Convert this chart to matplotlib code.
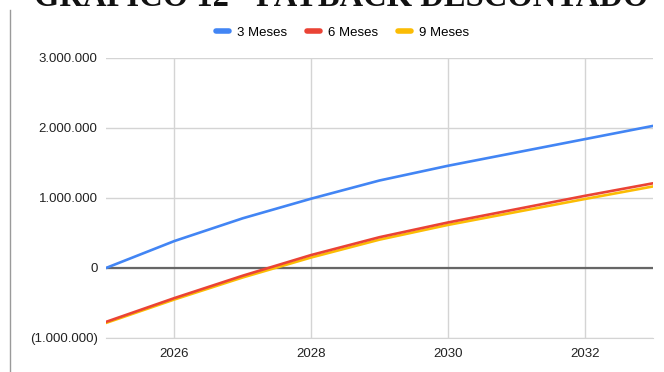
import matplotlib.pyplot as plt
from matplotlib.lines import Line2D
from matplotlib.ticker import FuncFormatter

# Fluxo de caixa descontado acumulado por cenário de prazo
anos = [2025, 2026, 2027, 2028, 2029, 2030, 2031, 2032, 2033]
meses_3 = [0, 385000, 710000, 990000, 1250000, 1460000, 1650000, 1840000, 2030000]
meses_6 = [-770000, -430000, -110000, 185000, 440000, 650000, 840000, 1030000, 1210000]
meses_9 = [-785000, -450000, -135000, 150000, 405000, 615000, 800000, 985000, 1165000]

series = [
    ('3 Meses', meses_3, '#4285F4'),
    ('6 Meses', meses_6, '#EA4335'),
    ('9 Meses', meses_9, '#FBBC04'),
]


def fmt_valor(v, pos):
    txt = f'{abs(v):,.0f}'.replace(',', '.')
    return f'({txt})' if v < 0 else txt


plt.rcParams['font.family'] = ['Liberation Sans', 'DejaVu Sans']

fig = plt.figure(figsize=(6.64, 3.72), dpi=100)
ax = fig.add_axes([0.1596, 0.0914, 0.8238, 0.7527])

for nome, valores, cor in series[::-1]:
    ax.plot(anos, valores, color=cor, lw=1.9, label=nome, solid_capstyle='round')

ax.axhline(0, color='#666666', lw=1.6, zorder=1.5)

ax.set_xlim(2025, 2033)
ax.set_ylim(-1000000, 3000000)
ax.set_xticks([2026, 2028, 2030, 2032])
ax.set_yticks([-1000000, 0, 1000000, 2000000, 3000000])
ax.yaxis.set_major_formatter(FuncFormatter(fmt_valor))
ax.tick_params(length=0, labelsize=9.5, colors='#222222', pad=6)
ax.tick_params(axis='x', pad=7)
ax.grid(True, color='#d4d4d4', lw=1)
ax.set_axisbelow(True)
for lado in ['top', 'right', 'left']:
    ax.spines[lado].set_visible(False)
ax.spines['bottom'].set_color('#d4d4d4')

# legenda na ordem 3, 6, 9 meses
handles, labels = ax.get_legend_handles_labels()
leg = fig.legend(handles[::-1], labels[::-1], loc='center', bbox_to_anchor=(0.516, 0.912),
                 ncol=3, frameon=False, fontsize=9.5, handlelength=1.0,
                 handletextpad=0.6, columnspacing=1.5)
for h in leg.legend_handles:
    h.set_linewidth(4)

# título cortado no topo da página
fig.text(0.513, 1 - 6 / 372, 'GRÁFICO 12 - PAYBACK DESCONTADO', ha='center', va='baseline',
         fontsize=23.5, fontweight='bold', family='Liberation Serif', color='#111111')

# borda vertical à esquerda
fig.add_artist(Line2D([10 / 664, 10 / 664], [0, 1 - 10 / 372], transform=fig.transFigure,
                      color='#9a9a9a', lw=1))

fig.savefig('out.png', dpi=100)
